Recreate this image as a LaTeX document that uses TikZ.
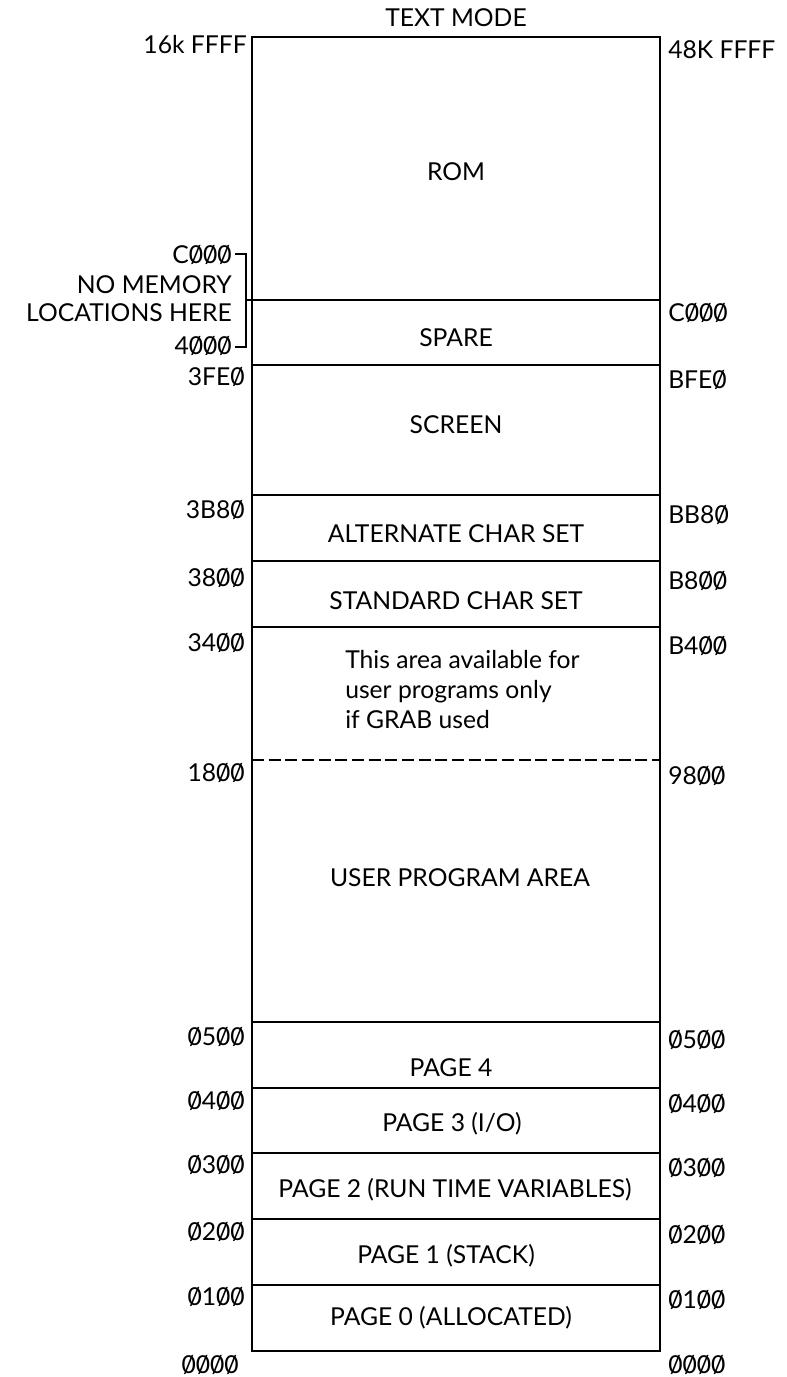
\documentclass[tikz,border=0pt]{standalone}
\usepackage{fontspec}
\setmainfont{Lato}
% slashed zero as printed in the map
\newcommand{\sz}{\ooalign{0\cr\hidewidth/\hidewidth\cr}}
\begin{document}
\begin{tikzpicture}[x=0.75pt,y=0.75pt,yscale=-1,xscale=1]
		\tikzset{
			txt/.style={inner sep=0.75pt,font=\fontsize{18.5}{22.5}\selectfont},
			memline/.style={line width=1.1pt},
		}
		\useasboundingbox (0,0) rectangle (787,1377);

		%Memory column [id:box]
		\draw [memline] (252,37) rectangle (660,1351);
		%Straight Lines [id:rom-spare]
		\draw [memline] (252,300) -- (660,300) ;
		%Straight Lines [id:spare-screen]
		\draw [memline] (252,365) -- (660,365) ;
		%Straight Lines [id:screen-alt]
		\draw [memline] (252,495) -- (660,495) ;
		%Straight Lines [id:alt-std]
		\draw [memline] (252,561) -- (660,561) ;
		%Straight Lines [id:std-grab]
		\draw [memline] (252,627) -- (660,627) ;
		%Straight Lines [id:grab-user]
		\draw [line width=1.8pt, dash pattern=on 9pt off 3.5pt] (252,760) -- (660,760) ;
		%Straight Lines [id:user-page4]
		\draw [memline] (252,1022) -- (660,1022) ;
		%Straight Lines [id:page4-page3]
		\draw [memline] (252,1088) -- (660,1088) ;
		%Straight Lines [id:page3-page2]
		\draw [memline] (252,1153) -- (660,1153) ;
		%Straight Lines [id:page2-page1]
		\draw [memline] (252,1219) -- (660,1219) ;
		%Straight Lines [id:page1-page0]
		\draw [memline] (252,1285) -- (660,1285) ;
		%Bracket [id:nomem]
		\draw [line width=0.8pt] (235,254) -- (246,254) -- (246,347) -- (235,347) ;
		\draw [line width=0.8pt] (246,300) -- (252,300) ;

		% Text Node
		\draw (456,18) node [txt] (mode) {TEXT MODE};
		% Text Node
		\draw (248,45) node [txt,anchor=east] (lftop) {16k FFFF};
		% Text Node
		\draw (667,50) node [txt,anchor=west] (rttop) {48K FFFF};
		% Text Node
		\draw (456,172) node [txt] (rom) {ROM};
		% Text Node
		\draw (233,255) node [txt,anchor=east] (lfcooo) {C\sz\sz\sz};
		% Text Node
		\draw (233,285) node [txt,anchor=east] (nomem) {NO MEMORY};
		% Text Node
		\draw (233,313) node [txt,anchor=east] (locs) {LOCATIONS HERE};
		% Text Node
		\draw (233,346) node [txt,anchor=east] (lf4ooo) {4\sz\sz\sz};
		% Text Node
		\draw (667,313) node [txt,anchor=west] (rtcooo) {C\sz\sz\sz};
		% Text Node
		\draw (456,338) node [txt] (spare) {SPARE};
		% Text Node
		\draw (246,377) node [txt,anchor=east] (lf3fe) {3FE\sz};
		% Text Node
		\draw (667,380) node [txt,anchor=west] (rtbfe) {BFE\sz};
		% Text Node
		\draw (456,425) node [txt] (screen) {SCREEN};
		% Text Node
		\draw (246,510) node [txt,anchor=east] (lf3b8) {3B8\sz};
		% Text Node
		\draw (667,515) node [txt,anchor=west] (rtbb8) {BB8\sz};
		% Text Node
		\draw (456,534) node [txt] (altset) {ALTERNATE CHAR SET};
		% Text Node
		\draw (246,578) node [txt,anchor=east] (lf38) {38\sz\sz};
		% Text Node
		\draw (667,581) node [txt,anchor=west] (rtb8) {B8\sz\sz};
		% Text Node
		\draw (456,601) node [txt] (stdset) {STANDARD CHAR SET};
		% Text Node
		\draw (246,643) node [txt,anchor=east] (lf34) {34\sz\sz};
		% Text Node
		\draw (667,646) node [txt,anchor=west] (rtb4) {B4\sz\sz};
		% Text Node
		\draw (344,690) node [txt,anchor=west,align=left] (grab) {This area available for\\user programs only\\if GRAB used};
		% Text Node
		\draw (246,773) node [txt,anchor=east] (lf18) {18\sz\sz};
		% Text Node
		\draw (667,776) node [txt,anchor=west] (rt98) {98\sz\sz};
		% Text Node
		\draw (460,878) node [txt] (user) {USER PROGRAM AREA};
		% Text Node
		\draw (246,1037) node [txt,anchor=east] (lf05) {\sz5\sz\sz};
		% Text Node
		\draw (667,1040) node [txt,anchor=west] (rt05) {\sz5\sz\sz};
		% Text Node
		\draw (451,1068) node [txt] (pgfour) {PAGE 4};
		% Text Node
		\draw (246,1101) node [txt,anchor=east] (lf04) {\sz4\sz\sz};
		% Text Node
		\draw (667,1104) node [txt,anchor=west] (rt04) {\sz4\sz\sz};
		% Text Node
		\draw (452,1124) node [txt] (pgthree) {PAGE 3 (I/O)};
		% Text Node
		\draw (246,1165) node [txt,anchor=east] (lf03) {\sz3\sz\sz};
		% Text Node
		\draw (667,1168) node [txt,anchor=west] (rt03) {\sz3\sz\sz};
		% Text Node
		\draw (455,1190) node [txt] (pgtwo) {PAGE 2 (RUN TIME VARIABLES)};
		% Text Node
		\draw (246,1232) node [txt,anchor=east] (lf02) {\sz2\sz\sz};
		% Text Node
		\draw (667,1235) node [txt,anchor=west] (rt02) {\sz2\sz\sz};
		% Text Node
		\draw (446,1256) node [txt] (pgone) {PAGE 1 (STACK)};
		% Text Node
		\draw (246,1297) node [txt,anchor=east] (lf01) {\sz1\sz\sz};
		% Text Node
		\draw (667,1300) node [txt,anchor=west] (rt01) {\sz1\sz\sz};
		% Text Node
		\draw (451,1318) node [txt] (pgzero) {PAGE 0 (ALLOCATED)};
		% Text Node
		\draw (240,1365) node [txt,anchor=east] (lf00) {\sz\sz\sz\sz};
		% Text Node
		\draw (667,1365) node [txt,anchor=west] (rt00) {\sz\sz\sz\sz};

	\end{tikzpicture}
\end{document}
